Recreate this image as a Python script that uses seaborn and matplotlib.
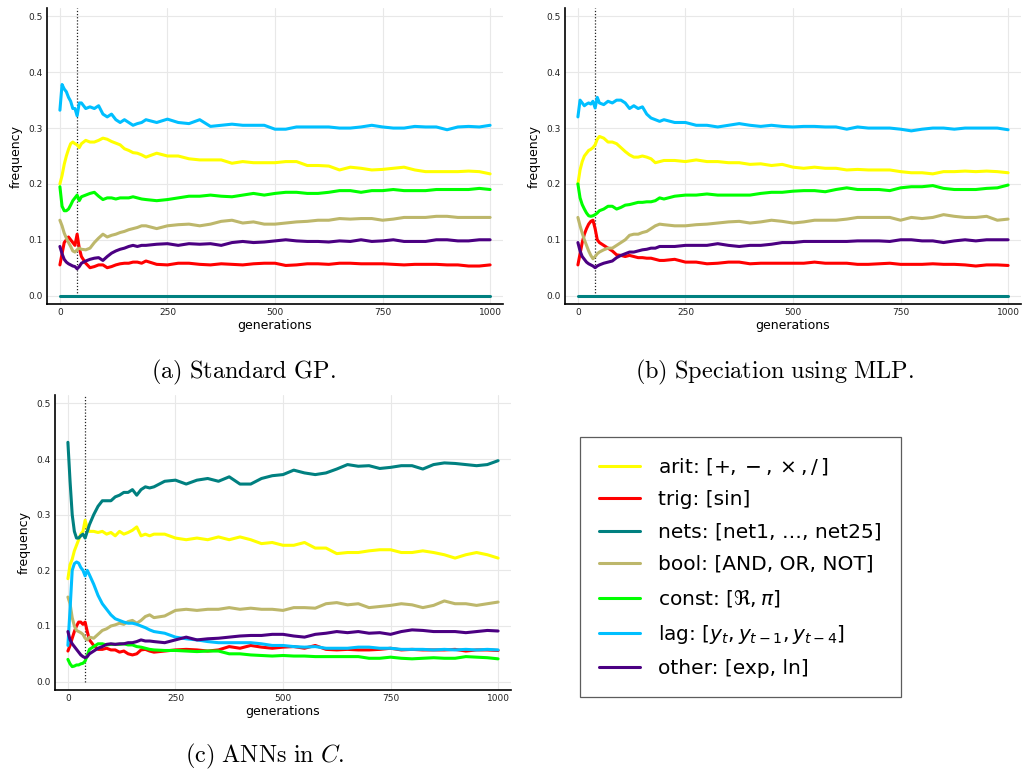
import numpy as np
import pandas as pd
import seaborn as sns
import matplotlib
matplotlib.use("Agg")
import matplotlib.pyplot as plt

# ---------------- data ----------------
generations = [0, 5, 10, 15, 20, 25, 30, 35, 40, 45, 50, 60, 70, 80, 90, 100, 110, 120, 130, 140, 150,
               160, 170, 180, 190, 200, 225, 250, 275, 300, 325, 350, 375, 400, 425, 450, 475, 500,
               525, 550, 575, 600, 625, 650, 675, 700, 725, 750, 775, 800, 825, 850, 875, 900, 925,
               950, 975, 1000]

series_names = ["arit", "trig", "nets", "bool", "const", "lag", "other"]
series_labels = [r"arit: $[+, -, \times, /\,]$",
                 "trig: [sin]",
                 "nets: [net1, …, net25]",
                 "bool: [AND, OR, NOT]",
                 r"const: $[\Re, \pi]$",
                 r"lag: $[y_t, y_{t-1}, y_{t-4}]$",
                 "other: [exp, ln]"]
series_colors = ["#FFFF00", "#FF0000", "#008080", "#BDB76B", "#00FF00", "#00BFFF", "#4B0082"]

# (a) Standard GP
a_arit = [0.200, 0.215, 0.235, 0.250, 0.262, 0.272, 0.275, 0.272, 0.270, 0.265, 0.272, 0.278, 0.275, 0.275, 0.278,
          0.282, 0.280, 0.276, 0.273, 0.270, 0.263, 0.260, 0.256, 0.255, 0.252, 0.248, 0.255, 0.250, 0.250, 0.245,
          0.243, 0.243, 0.243, 0.237, 0.240, 0.238, 0.238, 0.238, 0.240, 0.240, 0.233, 0.233, 0.232, 0.225, 0.230,
          0.228, 0.225, 0.226, 0.228, 0.230, 0.225, 0.222, 0.222, 0.222, 0.222, 0.223, 0.222, 0.218]
a_trig = [0.055, 0.075, 0.095, 0.100, 0.105, 0.100, 0.095, 0.090, 0.110, 0.085, 0.070, 0.058, 0.050, 0.052, 0.055,
          0.055, 0.050, 0.052, 0.055, 0.057, 0.058, 0.058, 0.060, 0.060, 0.058, 0.062, 0.056, 0.055, 0.058, 0.058,
          0.056, 0.055, 0.057, 0.056, 0.055, 0.057, 0.058, 0.058, 0.054, 0.055, 0.057, 0.057, 0.056, 0.058, 0.058,
          0.057, 0.057, 0.057, 0.056, 0.055, 0.056, 0.056, 0.056, 0.055, 0.055, 0.053, 0.053, 0.055]
a_nets = [0.0] * 58
a_bool = [0.135, 0.125, 0.112, 0.103, 0.095, 0.088, 0.080, 0.078, 0.082, 0.085, 0.083, 0.082, 0.085, 0.095, 0.103,
          0.110, 0.105, 0.108, 0.110, 0.113, 0.115, 0.118, 0.120, 0.122, 0.125, 0.125, 0.120, 0.125, 0.127, 0.128,
          0.125, 0.128, 0.133, 0.135, 0.130, 0.132, 0.128, 0.128, 0.130, 0.132, 0.133, 0.135, 0.135, 0.138, 0.137,
          0.138, 0.138, 0.135, 0.137, 0.140, 0.140, 0.140, 0.142, 0.142, 0.140, 0.140, 0.140, 0.140]
a_const = [0.195, 0.160, 0.152, 0.152, 0.155, 0.162, 0.170, 0.175, 0.180, 0.170, 0.177, 0.180, 0.183, 0.185, 0.178,
           0.172, 0.175, 0.175, 0.173, 0.175, 0.175, 0.175, 0.177, 0.175, 0.173, 0.172, 0.170, 0.172, 0.175, 0.178,
           0.178, 0.180, 0.178, 0.177, 0.180, 0.183, 0.180, 0.183, 0.185, 0.185, 0.183, 0.183, 0.185, 0.188, 0.188,
           0.185, 0.188, 0.188, 0.190, 0.188, 0.188, 0.188, 0.190, 0.190, 0.190, 0.190, 0.192, 0.190]
a_lag = [0.332, 0.378, 0.370, 0.365, 0.355, 0.348, 0.335, 0.335, 0.322, 0.345, 0.345, 0.335, 0.338, 0.335, 0.340,
         0.325, 0.320, 0.325, 0.315, 0.310, 0.315, 0.310, 0.305, 0.308, 0.310, 0.315, 0.310, 0.316, 0.310, 0.308,
         0.315, 0.303, 0.305, 0.307, 0.305, 0.305, 0.305, 0.298, 0.298, 0.302, 0.302, 0.302, 0.302, 0.300, 0.300,
         0.302, 0.305, 0.302, 0.300, 0.300, 0.303, 0.302, 0.302, 0.297, 0.302, 0.303, 0.302, 0.305]
a_other = [0.088, 0.075, 0.065, 0.060, 0.057, 0.055, 0.053, 0.052, 0.048, 0.052, 0.058, 0.062, 0.065, 0.067, 0.068,
           0.063, 0.070, 0.076, 0.080, 0.083, 0.085, 0.088, 0.090, 0.088, 0.090, 0.090, 0.092, 0.093, 0.090, 0.093,
           0.092, 0.093, 0.090, 0.095, 0.097, 0.095, 0.096, 0.098, 0.100, 0.098, 0.097, 0.097, 0.096, 0.098, 0.097,
           0.100, 0.097, 0.098, 0.100, 0.097, 0.097, 0.097, 0.100, 0.100, 0.098, 0.098, 0.100, 0.100]

# (b) Speciation using MLP
b_arit = [0.200, 0.225, 0.240, 0.250, 0.255, 0.260, 0.262, 0.265, 0.270, 0.280, 0.285, 0.282, 0.275, 0.275, 0.272,
          0.265, 0.258, 0.252, 0.248, 0.248, 0.250, 0.248, 0.245, 0.238, 0.240, 0.242, 0.242, 0.240, 0.243, 0.240,
          0.240, 0.238, 0.238, 0.235, 0.236, 0.233, 0.235, 0.230, 0.228, 0.230, 0.228, 0.228, 0.225, 0.226, 0.225,
          0.225, 0.225, 0.222, 0.220, 0.220, 0.218, 0.222, 0.222, 0.223, 0.222, 0.223, 0.222, 0.220]
b_trig = [0.055, 0.075, 0.095, 0.110, 0.120, 0.128, 0.133, 0.135, 0.120, 0.100, 0.095, 0.090, 0.085, 0.080, 0.073,
          0.072, 0.070, 0.072, 0.070, 0.068, 0.068, 0.067, 0.067, 0.065, 0.063, 0.063, 0.065, 0.060, 0.060, 0.057,
          0.058, 0.060, 0.060, 0.057, 0.058, 0.058, 0.058, 0.058, 0.058, 0.060, 0.058, 0.058, 0.058, 0.056, 0.056,
          0.057, 0.058, 0.056, 0.056, 0.056, 0.057, 0.056, 0.056, 0.055, 0.053, 0.055, 0.055, 0.054]
b_nets = [0.0] * 58
b_bool = [0.140, 0.125, 0.112, 0.100, 0.090, 0.080, 0.072, 0.066, 0.070, 0.075, 0.078, 0.082, 0.085, 0.085, 0.090,
          0.095, 0.100, 0.108, 0.110, 0.110, 0.113, 0.115, 0.120, 0.125, 0.128, 0.127, 0.125, 0.125, 0.127, 0.128,
          0.130, 0.132, 0.133, 0.130, 0.132, 0.135, 0.133, 0.130, 0.132, 0.135, 0.135, 0.135, 0.137, 0.140, 0.140,
          0.140, 0.140, 0.135, 0.140, 0.138, 0.140, 0.145, 0.142, 0.140, 0.140, 0.142, 0.135, 0.137]
b_const = [0.200, 0.175, 0.163, 0.155, 0.148, 0.143, 0.142, 0.143, 0.145, 0.148, 0.152, 0.155, 0.160, 0.160, 0.155,
           0.158, 0.162, 0.163, 0.165, 0.167, 0.167, 0.168, 0.168, 0.170, 0.175, 0.173, 0.178, 0.180, 0.180, 0.182,
           0.180, 0.180, 0.180, 0.180, 0.183, 0.185, 0.185, 0.187, 0.188, 0.188, 0.186, 0.190, 0.193, 0.190, 0.190,
           0.190, 0.188, 0.193, 0.195, 0.195, 0.197, 0.192, 0.190, 0.190, 0.190, 0.192, 0.193, 0.198]
b_lag = [0.320, 0.350, 0.345, 0.340, 0.343, 0.345, 0.343, 0.348, 0.336, 0.355, 0.345, 0.342, 0.348, 0.345, 0.350,
         0.350, 0.345, 0.335, 0.340, 0.335, 0.338, 0.325, 0.318, 0.315, 0.312, 0.315, 0.310, 0.310, 0.305, 0.305,
         0.302, 0.305, 0.308, 0.305, 0.303, 0.305, 0.303, 0.302, 0.303, 0.303, 0.302, 0.302, 0.298, 0.302, 0.300,
         0.300, 0.300, 0.298, 0.295, 0.298, 0.300, 0.300, 0.298, 0.300, 0.300, 0.300, 0.300, 0.297]
b_other = [0.095, 0.080, 0.070, 0.065, 0.060, 0.057, 0.055, 0.053, 0.050, 0.053, 0.055, 0.058, 0.060, 0.062, 0.068,
           0.072, 0.075, 0.078, 0.078, 0.080, 0.082, 0.083, 0.085, 0.085, 0.088, 0.088, 0.088, 0.090, 0.090, 0.090,
           0.093, 0.090, 0.088, 0.090, 0.090, 0.092, 0.095, 0.095, 0.097, 0.097, 0.097, 0.097, 0.097, 0.098, 0.098,
           0.098, 0.097, 0.100, 0.100, 0.098, 0.098, 0.095, 0.098, 0.100, 0.098, 0.100, 0.100, 0.100]

# (c) ANNs in C
c_arit = [0.185, 0.210, 0.220, 0.235, 0.245, 0.255, 0.265, 0.270, 0.290, 0.275, 0.270, 0.270, 0.268, 0.270, 0.265,
          0.268, 0.262, 0.270, 0.265, 0.268, 0.272, 0.278, 0.262, 0.265, 0.262, 0.265, 0.265, 0.258, 0.255, 0.258,
          0.255, 0.260, 0.255, 0.260, 0.255, 0.248, 0.250, 0.245, 0.245, 0.250, 0.240, 0.240, 0.230, 0.232, 0.232,
          0.235, 0.237, 0.237, 0.232, 0.232, 0.235, 0.232, 0.228, 0.222, 0.228, 0.232, 0.228, 0.222]
c_trig = [0.055, 0.065, 0.078, 0.090, 0.100, 0.107, 0.107, 0.103, 0.107, 0.090, 0.075, 0.065, 0.058, 0.058, 0.060,
          0.057, 0.057, 0.053, 0.055, 0.050, 0.048, 0.050, 0.057, 0.058, 0.055, 0.053, 0.055, 0.057, 0.058, 0.057,
          0.055, 0.057, 0.063, 0.060, 0.065, 0.062, 0.060, 0.062, 0.063, 0.060, 0.065, 0.058, 0.057, 0.058, 0.057,
          0.057, 0.058, 0.060, 0.057, 0.058, 0.057, 0.057, 0.057, 0.058, 0.055, 0.057, 0.057, 0.056]
c_nets = [0.430, 0.360, 0.300, 0.270, 0.258, 0.258, 0.262, 0.265, 0.258, 0.270, 0.282, 0.300, 0.315, 0.325, 0.325,
          0.325, 0.332, 0.335, 0.340, 0.340, 0.345, 0.335, 0.345, 0.350, 0.348, 0.350, 0.360, 0.362, 0.355, 0.362,
          0.365, 0.360, 0.368, 0.355, 0.355, 0.365, 0.370, 0.372, 0.380, 0.375, 0.372, 0.375, 0.382, 0.390, 0.387,
          0.388, 0.383, 0.385, 0.388, 0.388, 0.382, 0.390, 0.393, 0.392, 0.390, 0.388, 0.390, 0.397]
c_bool = [0.152, 0.140, 0.115, 0.100, 0.092, 0.090, 0.088, 0.085, 0.078, 0.075, 0.080, 0.078, 0.085, 0.092, 0.095,
          0.100, 0.102, 0.105, 0.103, 0.108, 0.110, 0.105, 0.110, 0.117, 0.120, 0.115, 0.118, 0.128, 0.130, 0.128,
          0.130, 0.130, 0.133, 0.130, 0.132, 0.130, 0.130, 0.128, 0.133, 0.133, 0.132, 0.140, 0.142, 0.138, 0.140,
          0.133, 0.135, 0.137, 0.140, 0.138, 0.133, 0.137, 0.145, 0.140, 0.140, 0.137, 0.140, 0.143]
c_const = [0.040, 0.032, 0.027, 0.028, 0.030, 0.030, 0.032, 0.033, 0.037, 0.047, 0.058, 0.063, 0.068, 0.068, 0.066,
           0.067, 0.067, 0.067, 0.068, 0.066, 0.066, 0.063, 0.062, 0.060, 0.058, 0.057, 0.056, 0.056, 0.055, 0.054,
           0.055, 0.055, 0.050, 0.050, 0.048, 0.047, 0.046, 0.047, 0.046, 0.046, 0.045, 0.045, 0.045, 0.045, 0.045,
           0.042, 0.042, 0.044, 0.042, 0.041, 0.042, 0.043, 0.042, 0.042, 0.045, 0.044, 0.043, 0.041]
c_lag = [0.065, 0.130, 0.200, 0.212, 0.215, 0.213, 0.205, 0.200, 0.190, 0.200, 0.192, 0.175, 0.155, 0.140, 0.130,
         0.120, 0.113, 0.110, 0.107, 0.105, 0.105, 0.103, 0.100, 0.097, 0.093, 0.090, 0.087, 0.080, 0.077, 0.075,
         0.072, 0.070, 0.070, 0.070, 0.070, 0.068, 0.065, 0.065, 0.063, 0.062, 0.063, 0.060, 0.060, 0.060, 0.062,
         0.062, 0.060, 0.060, 0.058, 0.058, 0.058, 0.057, 0.058, 0.057, 0.058, 0.057, 0.058, 0.057]
c_other = [0.090, 0.075, 0.068, 0.063, 0.058, 0.053, 0.048, 0.045, 0.043, 0.045, 0.050, 0.055, 0.060, 0.063, 0.067,
           0.068, 0.067, 0.068, 0.068, 0.070, 0.070, 0.072, 0.075, 0.073, 0.073, 0.072, 0.070, 0.075, 0.080, 0.075,
           0.077, 0.078, 0.080, 0.082, 0.083, 0.083, 0.085, 0.085, 0.082, 0.080, 0.085, 0.087, 0.090, 0.088, 0.090,
           0.087, 0.088, 0.085, 0.090, 0.093, 0.092, 0.090, 0.090, 0.090, 0.088, 0.090, 0.092, 0.091]

panel_data = {
    "a": [a_arit, a_trig, a_nets, a_bool, a_const, a_lag, a_other],
    "b": [b_arit, b_trig, b_nets, b_bool, b_const, b_lag, b_other],
    "c": [c_arit, c_trig, c_nets, c_bool, c_const, c_lag, c_other],
}
captions = {
    "a": r"$\mathrm{(a)\ Standard\ GP.}$",
    "b": r"$\mathrm{(b)\ Speciation\ using\ MLP.}$",
    "c": r"$\mathrm{(c)\ ANNs\ in\ }C\mathrm{.}$",
}
marker_generation = [40]
x_ticks = [0, 250, 500, 750, 1000]
y_ticks = [0.0, 0.1, 0.2, 0.3, 0.4, 0.5]

# ---------------- style ----------------
sns.set_theme(style="white")
plt.rcParams["font.family"] = ["DejaVu Sans"]
plt.rcParams["text.color"] = "black"
plt.rcParams["axes.labelcolor"] = "black"

fig = plt.figure(figsize=(10.22, 7.73), dpi=100)

axes_rects = {
    "a": [47 / 1022, 1 - 304 / 773, 456 / 1022, 296 / 773],
    "b": [565 / 1022, 1 - 304 / 773, 456 / 1022, 296 / 773],
    "c": [55 / 1022, 1 - 690 / 773, 456 / 1022, 295 / 773],
}
caption_pos = {"a": (243 / 1022, 1 - 372 / 773),
               "b": (775 / 1022, 1 - 372 / 773),
               "c": (265 / 1022, 1 - 756 / 773)}

palette = dict(zip(series_names, series_colors))
ax_c = None
for key in ["a", "b", "c"]:
    ax = fig.add_axes(axes_rects[key])
    rows = []
    for name, vals in zip(series_names, panel_data[key]):
        for g, v in zip(generations, vals):
            rows.append((g, v, name))
    df = pd.DataFrame(rows, columns=["generations", "frequency", "series"])
    sns.lineplot(data=df, x="generations", y="frequency", hue="series",
                 hue_order=series_names, palette=palette, estimator=None, sort=False,
                 linewidth=2.2, legend=False, ax=ax)
    for g in marker_generation:
        ax.axvline(g, ymin=0.028, ymax=1.0, color="#222222", linestyle=(0, (1, 1.5)),
                   linewidth=0.9, zorder=1)
    ax.set_xlim(-30, 1030)
    ax.set_ylim(-0.015, 0.515)
    ax.set_xticks(x_ticks)
    ax.set_yticks(y_ticks)
    ax.set_yticklabels([f"{t:.1f}" for t in y_ticks])
    ax.grid(True, color="#e8e8e8", linewidth=0.8)
    ax.set_axisbelow(True)
    for s in ["top", "right"]:
        ax.spines[s].set_visible(False)
    for s in ["left", "bottom"]:
        ax.spines[s].set_color("black")
        ax.spines[s].set_linewidth(1.2)
    ax.tick_params(axis="both", labelsize=6.5, colors="black", length=0, pad=3,
                   labelcolor="#222222")
    ax.set_xlabel("generations", fontsize=9, labelpad=1, color="black")
    ax.set_ylabel("frequency", fontsize=9, labelpad=4, color="black")
    fig.text(*caption_pos[key], captions[key], ha="center", va="center",
             fontsize=17.5, math_fontfamily="cm", color="black")
    if key == "c":
        ax_c = ax

handles = ax_c.get_lines()[:len(series_names)]
leg = fig.legend(handles, series_labels, loc="center",
                 bbox_to_anchor=(740.5 / 1022, 1 - 567 / 773),
                 fontsize=14.5, frameon=True, fancybox=False, edgecolor="#333333",
                 handlelength=2.0, handletextpad=0.9, labelspacing=0.66,
                 borderpad=0.95, borderaxespad=0)
leg.get_frame().set_linewidth(0.9)
for t in leg.get_texts():
    t.set_color("black")
for line in leg.get_lines():
    line.set_linewidth(2.2)

fig.savefig("out.png", dpi=100)
